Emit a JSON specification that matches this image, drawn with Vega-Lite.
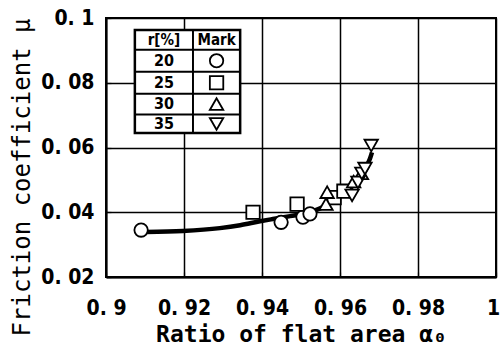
{
  "$schema": "https://vega.github.io/schema/vega-lite/v6.json",
  "width": 390,
  "height": 259,
  "autosize": {"type": "none"},
  "padding": {"left": 106, "top": 18, "right": 5, "bottom": 74},
  "background": "white",
  "config": {
    "view": {"stroke": "black", "strokeWidth": 2},
    "font": "DejaVu Sans Mono"
  },
  "datasets": {
    "curve": [
      {"a": 0.9103, "mu": 0.0339},
      {"a": 0.9197, "mu": 0.0342},
      {"a": 0.9292, "mu": 0.0351},
      {"a": 0.9344, "mu": 0.0360},
      {"a": 0.9395, "mu": 0.0372},
      {"a": 0.9428, "mu": 0.0379},
      {"a": 0.9472, "mu": 0.0388},
      {"a": 0.9515, "mu": 0.0397},
      {"a": 0.9549, "mu": 0.0412},
      {"a": 0.9587, "mu": 0.0437},
      {"a": 0.9621, "mu": 0.0468},
      {"a": 0.9646, "mu": 0.0499},
      {"a": 0.9664, "mu": 0.0535},
      {"a": 0.9677, "mu": 0.0566},
      {"a": 0.9682, "mu": 0.0585}
    ],
    "points": [
      {"a": 0.9090, "mu": 0.0345, "r": "20"},
      {"a": 0.9449, "mu": 0.0369, "r": "20"},
      {"a": 0.9505, "mu": 0.0385, "r": "20"},
      {"a": 0.9523, "mu": 0.0395, "r": "20"},
      {"a": 0.9377, "mu": 0.0400, "r": "25"},
      {"a": 0.9490, "mu": 0.0425, "r": "25"},
      {"a": 0.9585, "mu": 0.0445, "r": "25"},
      {"a": 0.9610, "mu": 0.0465, "r": "25"},
      {"a": 0.9564, "mu": 0.0425, "r": "30"},
      {"a": 0.9567, "mu": 0.0462, "r": "30"},
      {"a": 0.9635, "mu": 0.0495, "r": "30"},
      {"a": 0.9655, "mu": 0.0520, "r": "30"},
      {"a": 0.9631, "mu": 0.0452, "r": "35"},
      {"a": 0.9646, "mu": 0.0492, "r": "35"},
      {"a": 0.9656, "mu": 0.0520, "r": "35"},
      {"a": 0.9664, "mu": 0.0535, "r": "35"},
      {"a": 0.9680, "mu": 0.0606, "r": "35"}
    ],
    "tablebox": [{"a": 0.9074, "a2": 0.9344, "mu": 0.0645, "mu2": 0.0963}],
    "hlines": [
      {"a": 0.9074, "a2": 0.9344, "mu": 0.0902},
      {"a": 0.9074, "a2": 0.9344, "mu": 0.0834},
      {"a": 0.9074, "a2": 0.9344, "mu": 0.0766},
      {"a": 0.9074, "a2": 0.9344, "mu": 0.0702}
    ],
    "vlines": [{"a": 0.9223, "mu": 0.0645, "mu2": 0.0963}],
    "header": [
      {"a": 0.91485, "mu": 0.09325, "t": "r[%]"},
      {"a": 0.92835, "mu": 0.09325, "t": "Mark"}
    ],
    "rows": [
      {"a": 0.91485, "a2": 0.92835, "mu": 0.0868, "r": "20"},
      {"a": 0.91485, "a2": 0.92835, "mu": 0.0800, "r": "25"},
      {"a": 0.91485, "a2": 0.92835, "mu": 0.0734, "r": "30"},
      {"a": 0.91485, "a2": 0.92835, "mu": 0.0673, "r": "35"}
    ]
  },
  "layer": [
    {
      "data": {"name": "curve"},
      "mark": {"type": "line", "color": "black", "strokeWidth": 4.5, "interpolate": "monotone"},
      "encoding": {
        "x": {
          "field": "a", "type": "quantitative",
          "scale": {"domain": [0.9, 1.0], "nice": false, "zero": false},
          "axis": {
            "title": "Ratio of flat area α₀",
            "values": [0.9, 0.905, 0.91, 0.915, 0.92, 0.925, 0.93, 0.935, 0.94, 0.945, 0.95, 0.955, 0.96, 0.965, 0.97, 0.975, 0.98, 0.985, 0.99, 0.995, 1.0],
            "format": ".3~f",
            "labelExpr": "abs(datum.value*50-round(datum.value*50))<0.01 ? replace(datum.label, '.', '. ') : ''",
            "labelFont": "DejaVu Sans Condensed", "labelFontSize": 21, "labelFontWeight": "bold", "labelColor": "black",
            "labelOverlap": false, "labelFlush": false, "labelPadding": 25,
            "labelOffset": {"condition": {"test": "datum.value > 0.999", "value": -3}, "value": 0},
            "tickSize": -5, "tickColor": "black", "tickWidth": 1.2,
            "domainColor": "black", "domainWidth": 2,
            "grid": true, "gridColor": "black", "gridWidth": 1.5,
            "gridOpacity": {"condition": {"test": "abs(datum.value*50-round(datum.value*50))<0.01", "value": 1}, "value": 0},
            "titleFont": "DejaVu Sans Mono", "titleFontSize": 23, "titleFontWeight": "bold", "titleColor": "black", "titlePadding": 5
          }
        },
        "y": {
          "field": "mu", "type": "quantitative",
          "scale": {"domain": [0.02, 0.1], "nice": false, "zero": false},
          "axis": {
            "title": "Friction coefficient μ",
            "values": [0.02, 0.025, 0.03, 0.035, 0.04, 0.045, 0.05, 0.055, 0.06, 0.065, 0.07, 0.075, 0.08, 0.085, 0.09, 0.095, 0.1],
            "format": ".3~f",
            "labelExpr": "abs(datum.value*50-round(datum.value*50))<0.01 ? replace(datum.label, '.', '. ') : ''",
            "labelFont": "DejaVu Sans Condensed", "labelFontSize": 21, "labelFontWeight": "bold", "labelColor": "black",
            "labelOverlap": false, "labelFlush": false, "labelPadding": 17,
            "tickSize": -5, "tickColor": "black", "tickWidth": 1.2,
            "domainColor": "black", "domainWidth": 2,
            "grid": true, "gridColor": "black", "gridWidth": 1.5,
            "gridOpacity": {"condition": {"test": "abs(datum.value*50-round(datum.value*50))<0.01", "value": 1}, "value": 0},
            "titleFont": "DejaVu Sans Mono", "titleFontSize": 24, "titleFontWeight": "normal", "titleColor": "black",
            "titleAnchor": "end", "titlePadding": 6
          }
        }
      }
    },
    {
      "data": {"name": "points"},
      "mark": {"type": "point", "filled": false, "fill": "white", "fillOpacity": 1, "stroke": "black", "strokeWidth": 1.8, "opacity": 1, "size": 180},
      "encoding": {
        "x": {"field": "a", "type": "quantitative"},
        "y": {"field": "mu", "type": "quantitative"},
        "shape": {"field": "r", "type": "nominal", "scale": {"domain": ["20", "25", "30", "35"], "range": ["circle", "square", "triangle-up", "triangle-down"]}, "legend": null}
      }
    },
    {
      "data": {"name": "tablebox"},
      "mark": {"type": "rect", "fill": "white", "stroke": "black", "strokeWidth": 2.5},
      "encoding": {
        "x": {"field": "a", "type": "quantitative"},
        "x2": {"field": "a2"},
        "y": {"field": "mu", "type": "quantitative"},
        "y2": {"field": "mu2"}
      }
    },
    {
      "data": {"name": "hlines"},
      "mark": {"type": "rule", "color": "black", "strokeWidth": 2},
      "encoding": {
        "x": {"field": "a", "type": "quantitative"},
        "x2": {"field": "a2"},
        "y": {"field": "mu", "type": "quantitative"}
      }
    },
    {
      "data": {"name": "vlines"},
      "mark": {"type": "rule", "color": "black", "strokeWidth": 2},
      "encoding": {
        "x": {"field": "a", "type": "quantitative"},
        "y": {"field": "mu", "type": "quantitative"},
        "y2": {"field": "mu2"}
      }
    },
    {
      "data": {"name": "header"},
      "mark": {"type": "text", "font": "DejaVu Sans Condensed", "fontSize": 15, "fontWeight": "bold", "color": "black", "baseline": "middle", "align": "center"},
      "encoding": {
        "x": {"field": "a", "type": "quantitative"},
        "y": {"field": "mu", "type": "quantitative"},
        "text": {"field": "t"}
      }
    },
    {
      "data": {"name": "rows"},
      "mark": {"type": "text", "font": "DejaVu Sans Condensed", "fontSize": 16, "fontWeight": "bold", "color": "black", "baseline": "middle", "align": "center"},
      "encoding": {
        "x": {"field": "a", "type": "quantitative"},
        "y": {"field": "mu", "type": "quantitative"},
        "text": {"field": "r"}
      }
    },
    {
      "data": {"name": "rows"},
      "mark": {"type": "point", "filled": false, "fill": "white", "fillOpacity": 1, "stroke": "black", "strokeWidth": 1.8, "opacity": 1, "size": 180},
      "encoding": {
        "x": {"field": "a2", "type": "quantitative"},
        "y": {"field": "mu", "type": "quantitative"},
        "shape": {"field": "r", "type": "nominal", "legend": null}
      }
    }
  ]
}
